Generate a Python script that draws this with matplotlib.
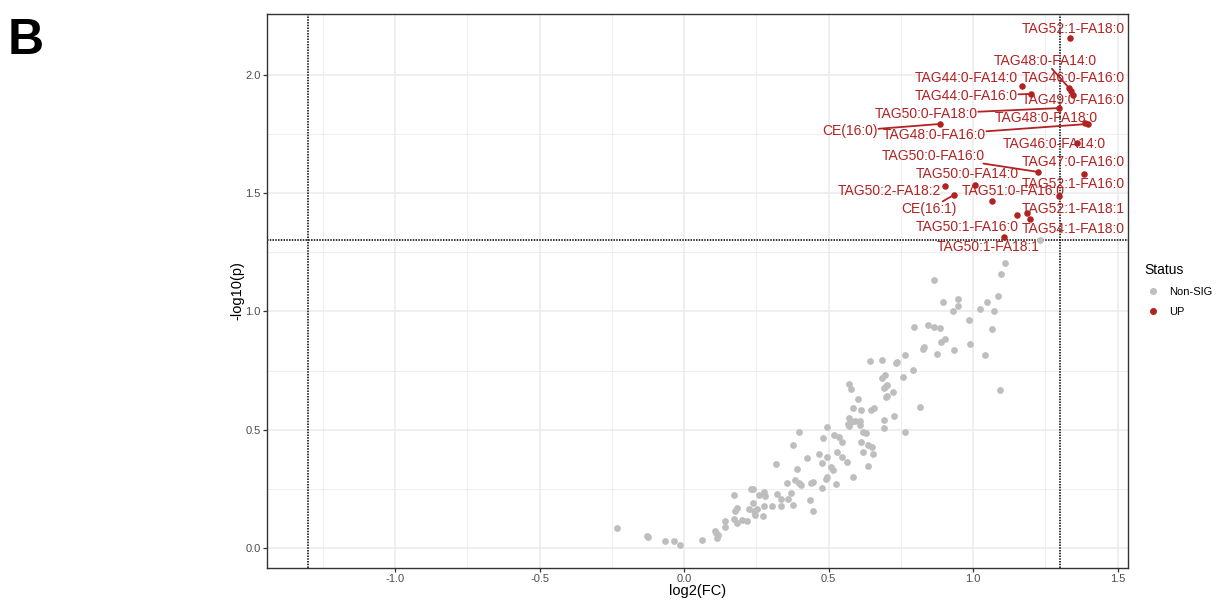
import numpy as np
import matplotlib
matplotlib.use("Agg")
import matplotlib.pyplot as plt
from matplotlib.lines import Line2D

plt.rcParams['font.family'] = ['Liberation Sans', 'DejaVu Sans']
plt.rcParams['axes.unicode_minus'] = False

# non-significant lipids (log2 FC, -log10 p)
gray_x = [-0.231, -0.127, -0.125, -0.065, -0.035, -0.013, 0.062, 0.107, 0.111, 0.119,
          0.115, 0.143, 0.143, 0.171, 0.175, 0.182, 0.173, 0.184, 0.200, 0.219,
          0.224, 0.231, 0.240, 0.238, 0.242, 0.245, 0.252, 0.258, 0.272, 0.277,
          0.279, 0.277, 0.303, 0.321, 0.318, 0.335, 0.335, 0.355, 0.358, 0.371,
          0.378, 0.378, 0.390, 0.384, 0.396, 0.405, 0.399, 0.424, 0.436, 0.447,
          0.438, 0.445, 0.468, 0.476, 0.478, 0.482, 0.494, 0.494, 0.491, 0.496,
          0.508, 0.515, 0.519, 0.525, 0.528, 0.537, 0.546, 0.546, 0.563, 0.567,
          0.572, 0.578, 0.590, 0.607, 0.609, 0.586, 0.611, 0.618, 0.618, 0.630,
          0.637, 0.649, 0.653, 0.638, 0.796, 0.843, 0.828, 0.830, 0.644, 0.685,
          0.734, 0.736, 0.764, 0.793, 0.757, 0.685, 0.694, 0.697, 0.701, 0.690,
          0.722, 0.697, 0.701, 0.817, 0.727, 0.690, 0.690, 0.764, 0.570, 0.579,
          0.602, 0.586, 0.611, 0.646, 0.657, 0.572, 1.112, 1.096, 0.863, 1.085,
          1.047, 0.897, 0.948, 0.946, 0.932, 1.024, 1.073, 0.985, 1.066, 0.866,
          0.885, 0.888, 0.902, 0.874, 0.934, 0.990, 1.042, 1.093, 1.232]
gray_y = [0.083, 0.051, 0.046, 0.030, 0.031, 0.013, 0.034, 0.072, 0.062, 0.055,
          0.041, 0.113, 0.090, 0.224, 0.158, 0.168, 0.124, 0.104, 0.118, 0.114,
          0.164, 0.249, 0.249, 0.189, 0.154, 0.140, 0.164, 0.224, 0.135, 0.237,
          0.220, 0.178, 0.176, 0.228, 0.354, 0.206, 0.178, 0.276, 0.206, 0.231,
          0.182, 0.434, 0.335, 0.288, 0.276, 0.268, 0.492, 0.379, 0.203, 0.155,
          0.276, 0.279, 0.396, 0.358, 0.252, 0.464, 0.386, 0.510, 0.290, 0.299,
          0.344, 0.330, 0.478, 0.269, 0.406, 0.471, 0.450, 0.386, 0.365, 0.524,
          0.514, 0.532, 0.536, 0.538, 0.518, 0.301, 0.446, 0.407, 0.492, 0.488,
          0.436, 0.426, 0.396, 0.347, 0.933, 0.944, 0.840, 0.849, 0.791, 0.795,
          0.781, 0.786, 0.817, 0.753, 0.722, 0.719, 0.733, 0.685, 0.688, 0.677,
          0.661, 0.640, 0.643, 0.595, 0.558, 0.541, 0.505, 0.490, 0.693, 0.671,
          0.629, 0.592, 0.584, 0.584, 0.592, 0.550, 1.204, 1.159, 1.133, 1.066,
          1.040, 1.041, 1.053, 1.023, 1.003, 1.009, 1.003, 0.963, 0.925, 0.934,
          0.929, 0.872, 0.882, 0.819, 0.837, 0.861, 0.816, 0.668, 1.302]

# significant (UP) lipids
up_names = ["TAG52:1-FA18:0", "TAG48:0-FA14:0", "TAG44:0-FA14:0", "TAG46:0-FA16:0",
            "TAG44:0-FA16:0", "TAG49:0-FA16:0", "TAG50:0-FA18:0", "TAG48:0-FA18:0",
            "CE(16:0)", "TAG48:0-FA16:0", "TAG46:0-FA14:0", "TAG50:0-FA16:0",
            "TAG47:0-FA16:0", "TAG50:0-FA14:0", "TAG52:1-FA16:0", "TAG50:2-FA18:2",
            "TAG51:0-FA16:0", "CE(16:1)", "TAG52:1-FA18:1", "TAG50:1-FA16:0",
            "TAG54:1-FA18:0", "TAG50:1-FA18:1"]
up_x = [1.336, 1.332, 1.170, 1.339, 1.201, 1.346, 1.298, 1.388, 0.886, 1.398, 1.361,
        1.225, 1.384, 1.007, 1.298, 0.903, 1.066, 0.934, 1.187, 1.152, 1.197, 1.107]
up_y = [2.156, 1.945, 1.953, 1.932, 1.920, 1.915, 1.860, 1.796, 1.793, 1.793, 1.712,
        1.590, 1.581, 1.535, 1.488, 1.531, 1.467, 1.493, 1.416, 1.408, 1.391, 1.315]

# where the repelled labels ended up (layout)
label_x = [1.346, 1.249, 0.976, 1.346, 0.976, 1.346, 0.837, 1.253, 0.574, 0.865, 1.280,
           0.862, 1.346, 0.979, 1.346, 0.709, 1.138, 0.848, 1.346, 0.979, 1.346, 1.052]
label_y = [2.194, 2.059, 1.987, 1.987, 1.911, 1.894, 1.835, 1.818, 1.763, 1.746, 1.708,
           1.658, 1.632, 1.581, 1.539, 1.510, 1.510, 1.433, 1.433, 1.357, 1.349, 1.273]
with_segment = ["TAG48:0-FA14:0", "TAG44:0-FA16:0", "TAG50:0-FA18:0", "CE(16:0)",
                "TAG48:0-FA16:0", "TAG50:0-FA16:0", "CE(16:1)"]

fc_cut = 1.3
p_cut = -np.log10(0.05)

gray_col = '#BEBEBE'
red_col = '#B22222'

fig = plt.figure(figsize=(12.17, 6.01), dpi=100)
ax = fig.add_axes([0.2194, 0.0549, 0.7075, 0.9218])

ax.scatter(gray_x, gray_y, s=24, color=gray_col, linewidths=0, zorder=3)
ax.scatter(up_x, up_y, s=22, color=red_col, linewidths=0, zorder=4)

for name, px, py, lx, ly in zip(up_names, up_x, up_y, label_x, label_y):
    kw = {}
    if name in with_segment:
        kw['arrowprops'] = dict(arrowstyle='-', color=red_col, lw=1.3,
                                shrinkA=0, shrinkB=2)
    ax.annotate(name, xy=(px, py), xytext=(lx, ly), textcoords='data',
                ha='center', va='center', fontsize=10, color=red_col, zorder=5,
                bbox=dict(boxstyle='square,pad=0.05', fc='none', ec='none'), **kw)

dots = (0, (1, 0.8))
ax.axvline(-fc_cut, color='black', ls=dots, lw=1.1, zorder=2)
ax.axvline(fc_cut, color='black', ls=dots, lw=1.1, zorder=2)
ax.axhline(p_cut, color='black', ls=dots, lw=1.1, zorder=2)

ax.set_xlim(-1.443, 1.536)
ax.set_ylim(-0.085, 2.258)
ax.set_xticks([-1.0, -0.5, 0.0, 0.5, 1.0, 1.5])
ax.set_yticks([0.0, 0.5, 1.0, 1.5, 2.0])
ax.set_xticks(np.arange(-1.25, 1.6, 0.5), minor=True)
ax.set_yticks([0.25, 0.75, 1.25, 1.75], minor=True)
ax.grid(True, which='major', color='#EBEBEB', lw=1.1, zorder=0)
ax.grid(True, which='minor', color='#EBEBEB', lw=0.6, zorder=0)
ax.set_axisbelow(True)
ax.tick_params(which='major', length=3, width=0.9, color='#333333',
               labelsize=8, labelcolor='#4D4D4D', pad=1.5)
ax.tick_params(which='minor', length=0)
for sp in ax.spines.values():
    sp.set_color('#333333')
    sp.set_linewidth(1)

ax.set_xlabel('log2(FC)', fontsize=10.5, labelpad=0)
ax.set_ylabel('-log10(p)', fontsize=10.5, labelpad=1)

handles = [Line2D([], [], ls='none', marker='o', ms=4, color=gray_col),
           Line2D([], [], ls='none', marker='o', ms=4, color=red_col)]
fig.legend(handles, ['Non-SIG', 'UP'], title='Status', loc='center left',
           bbox_to_anchor=(0.932, 0.518), frameon=False, fontsize=8,
           title_fontsize=10, handlelength=1.6, handletextpad=0.6,
           labelspacing=0.9, alignment='left')

fig.text(0.006, 0.97, 'B', fontsize=36, fontweight='bold', va='top', ha='left')

fig.savefig('out.png', dpi=100)
